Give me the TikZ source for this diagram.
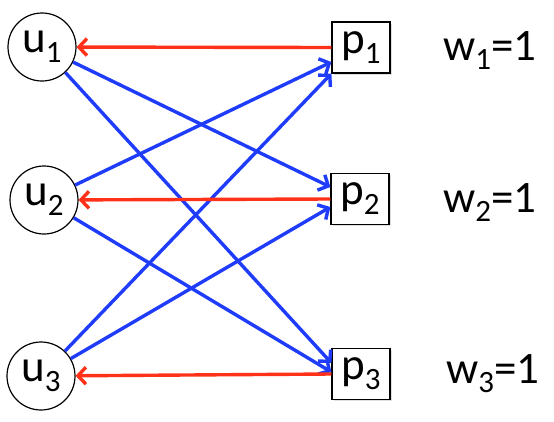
\documentclass[tikz,border=0pt]{standalone}
\usepackage{fontspec}
\setmainfont{Carlito}
\usetikzlibrary{arrows.meta,shadows}
\definecolor{edgeblue}{RGB}{30,60,250}
\definecolor{matchred}{RGB}{255,50,25}
\newcommand{\lowidx}[1]{\raisebox{-0.22em}{\fontsize{31}{31}\selectfont #1}}
\tikzset{
    % left side: circles
    unode/.style={
        circle, draw=black, fill=white,
        minimum size=68pt, inner sep=0pt,
        font=\fontsize{45}{45}\selectfont, line width=1.2pt
    },
    % right side: boxes with a faint shadow
    pnode/.style={
        rectangle, draw=black, fill=white,
        minimum width=58pt, minimum height=51pt, inner sep=0pt,
        font=\fontsize{45}{45}\selectfont, line width=1.2pt,
        drop shadow={opacity=0.25, shadow xshift=1.5pt, shadow yshift=-1.5pt}
    },
    % weights beside the boxes
    weightlabel/.style={
        anchor=base west, inner sep=0pt,
        font=\fontsize{45}{45}\selectfont
    },
    % arrows
    matcharrow/.style={
        draw=matchred, line width=3.4pt,
        -{Straight Barb[length=8pt,width=17pt]}
    },
    edgearrow/.style={
        draw=edgeblue, line width=3.4pt,
        -{Straight Barb[length=8pt,width=17pt]}
    },
}
\begin{document}
\begin{tikzpicture}[x=1pt,y=-1pt]
    \useasboundingbox (0,0) rectangle (554,421);
    % nodes
    \node[unode] (u1) at (42,47)  {u\lowidx{1}};
    \node[unode] (u2) at (44,200) {u\lowidx{2}};
    \node[unode] (u3) at (41,376) {u\lowidx{3}};
    \node[pnode] (p1) at (361,47.5) {p\lowidx{1}};
    \node[pnode] (p2) at (360,199)  {p\lowidx{2}};
    \node[pnode] (p3) at (361,374)  {p\lowidx{3}};
    \node[weightlabel] (w1) at (443,60)  {w\lowidx{1}=1};
    \node[weightlabel] (w2) at (443,212) {w\lowidx{2}=1};
    \node[weightlabel] (w3) at (446,383) {w\lowidx{3}=1};
    % blue edges
    \draw[edgearrow] (u1) -- ([yshift=12pt]p2.west);
    \draw[edgearrow] (u1) -- ([yshift=11pt]p3.west);
    \draw[edgearrow] (u2) -- ([yshift=-14.5pt]p1.west);
    \draw[edgearrow] (u2) -- ([yshift=2pt]p3.west);
    \draw[edgearrow] (u3) -- (p1.south west);
    \draw[edgearrow] (u3) -- ([yshift=-8pt]p2.west);
    % red edges
    \draw[matcharrow] (p1.west) -- (u1);
    \draw[matcharrow] (p2.west) -- (u2);
    \draw[matcharrow] (p3.west) -- (u3);
\end{tikzpicture}
\end{document}
